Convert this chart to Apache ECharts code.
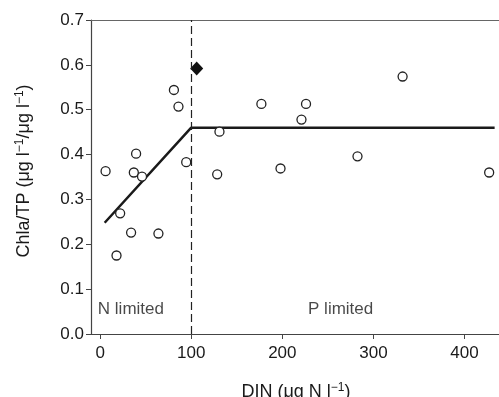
<!DOCTYPE html>
<html>
<head>
<meta charset="utf-8">
<script src="https://cdn.jsdelivr.net/npm/echarts@6/dist/echarts.min.js"></script>
<style>
  html, body { margin: 0; padding: 0; background: #fff; }
  #chart { width: 499px; height: 397px; }
</style>
</head>
<body>
<div id="chart"></div>
<script>
// observed lakes: DIN vs Chla/TP
const obsPoints = [
  [6, 0.363], [18, 0.175], [22, 0.269], [34, 0.226], [37, 0.360],
  [39.5, 0.402], [46, 0.351], [64, 0.224], [81, 0.544], [86, 0.507],
  [94.5, 0.383], [128.5, 0.356], [131, 0.451], [177, 0.513], [198, 0.369],
  [221, 0.478], [226, 0.513], [282.5, 0.396], [332, 0.574], [427, 0.360]
];
// highlighted point (filled diamond)
const specialPoint = [[106, 0.592]];
// piecewise fitted line
const fitLine = [[5, 0.248], [100, 0.46], [433, 0.46]];
const breakX = 100;
const xTicks = [0, 100, 200, 300, 400];
const yTicks = ['0.0', '0.1', '0.2', '0.3', '0.4', '0.5', '0.6', '0.7'];
const regionLabels = [
  { name: 'N limited', value: [-2.5, 0.054], align: 'left' },
  { name: 'P limited', value: [264, 0.054], align: 'center' }
];

const font = 'Liberation Sans, Arial, sans-serif';
const txt = '#1a1a1a';
const axisCol = '#444';
const supStyle = { fontFamily: font, fontSize: 12, color: txt, padding: [0, 0, 9, 0] };

const chart = echarts.init(document.getElementById('chart'));

chart.setOption({
  animation: false,
  grid: { left: 91, top: 20, bottom: 63, right: -2, outerBoundsMode: 'none' },
  xAxis: [{
    type: 'value',
    min: -10, max: 440,
    position: 'bottom',
    axisLine: { show: true, onZero: false, lineStyle: { color: axisCol, width: 1.2 } },
    axisTick: { show: true, length: 5, customValues: xTicks, lineStyle: { color: axisCol } },
    axisLabel: {
      fontFamily: font, fontSize: 17, color: txt, margin: 11,
      customValues: xTicks
    },
    splitLine: { show: false },
    name: 'DIN (μg N l{sup|−1})',
    nameLocation: 'middle',
    nameGap: 48,
    nameTextStyle: {
      fontFamily: font, fontSize: 18, color: txt,
      rich: { sup: supStyle }
    }
  }, {
    type: 'value',
    min: -10, max: 440,
    position: 'top',
    axisLine: { show: true, onZero: false, lineStyle: { color: '#666', width: 1.2 } },
    axisTick: { show: false },
    axisLabel: { show: false },
    splitLine: { show: false }
  }],
  yAxis: {
    type: 'value',
    min: 0, max: 0.7, interval: 0.1,
    axisLine: { show: true, onZero: false, lineStyle: { color: axisCol, width: 1.2 } },
    axisTick: { show: true, length: 5, lineStyle: { color: axisCol } },
    axisLabel: {
      fontFamily: font, fontSize: 17, color: txt, margin: 7,
      formatter: v => yTicks[Math.round(v * 10)]
    },
    splitLine: { show: false },
    name: 'Chla/TP (μg l{sup|−1}/μg l{sup|−1})',
    nameLocation: 'middle',
    nameRotate: 90,
    nameGap: 56,
    nameTextStyle: {
      fontFamily: font, fontSize: 18, color: txt,
      padding: [0, 0, 0, 12],
      rich: { sup: supStyle }
    }
  },
  series: [
    {
      type: 'line',
      data: fitLine,
      symbol: 'none',
      lineStyle: { color: '#1a1a1a', width: 2.5 },
      z: 2,
      markLine: {
        silent: true,
        symbol: 'none',
        label: { show: false },
        lineStyle: { color: '#222', width: 1.2, type: [8, 4] },
        data: [{ xAxis: breakX }]
      }
    },
    {
      type: 'scatter',
      data: obsPoints,
      symbol: 'circle',
      symbolSize: 9,
      itemStyle: { color: '#fff', borderColor: '#222', borderWidth: 1.3, opacity: 1 },
      z: 3
    },
    {
      type: 'scatter',
      data: specialPoint,
      symbol: 'diamond',
      symbolSize: [13, 14],
      itemStyle: { color: '#111', opacity: 1 },
      z: 3
    },
    {
      type: 'scatter',
      symbolSize: 0,
      data: regionLabels.map(r => ({
        name: r.name, value: r.value,
        label: { align: r.align }
      })),
      label: {
        show: true,
        position: 'inside',
        formatter: p => p.name,
        fontFamily: font, fontSize: 17, color: txt,
        verticalAlign: 'middle'
      },
      z: 4
    }
  ]
});
</script>
</body>
</html>
